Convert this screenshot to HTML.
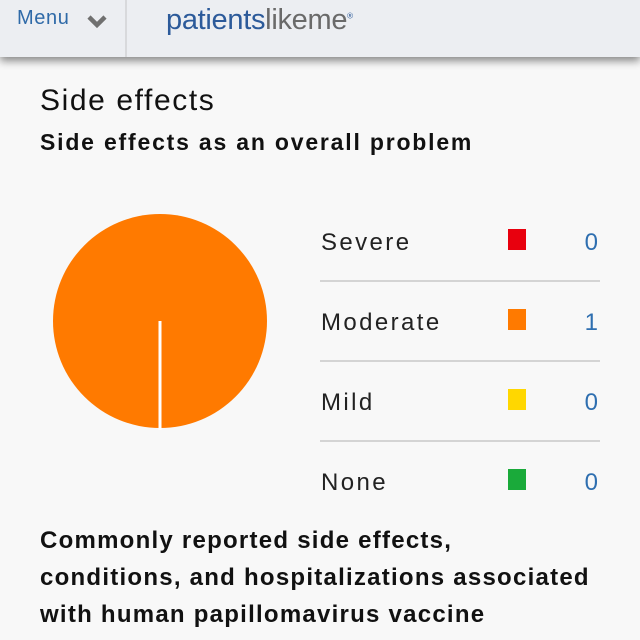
<!DOCTYPE html>
<html><head><meta charset="utf-8"><style>
body{margin:0;width:640px;height:640px;overflow:hidden;background:#f8f8f8;font-family:"Liberation Sans",sans-serif;position:relative}
.hdr{position:absolute;left:0;top:0;width:640px;height:57px;background:#eceef2;box-shadow:0 4px 8px rgba(0,0,0,.45)}
.abs{position:absolute;white-space:nowrap}
</style></head><body>
<div class="hdr">
<div class="abs" style="left:17px;top:7px;font-size:20px;color:#2f6aa8;letter-spacing:0.6px">Menu</div>
<svg class="abs" style="left:86px;top:12px" width="24" height="18"><path d="M3,5 L11,13 L19,5" fill="none" stroke="#707070" stroke-width="4.5"/></svg>
<div class="abs" style="left:125px;top:0;width:2px;height:57px;background:#d8d9dc"></div>
<div class="abs" style="left:166px;top:4px;font-size:29px;color:#2c5a9a;letter-spacing:-0.3px">patients<span style="color:#6a6a6a">likeme</span><sup style="font-size:8px">®</sup></div>
</div>
<div class="abs" style="left:40px;top:84px;font-size:30px;color:#111;letter-spacing:1.6px">Side effects</div>
<div class="abs" style="left:40px;top:129px;font-size:23px;font-weight:bold;color:#111;letter-spacing:1.8px">Side effects as an overall problem</div>
<svg id="chart" class="abs" style="left:0;top:0" width="640" height="640"></svg>
<div class="abs" style="left:40px;top:522px;font-size:24px;font-weight:bold;color:#111;line-height:37px;letter-spacing:1.25px">Commonly reported side effects,<br>conditions, and hospitalizations associated<br>with human papillomavirus vaccine</div>
<script>
const categories=["Severe","Moderate","Mild","None"];
const values=[0,1,0,0];
const colors=["#e8000e","#ff7a00","#ffd700","#1aaa3a"];
const NS="http://www.w3.org/2000/svg";
const svg=document.getElementById('chart');
const cx=160,cy=321,r=107;
const total=values.reduce((a,b)=>a+b,0);
function mk(t,a){const e=document.createElementNS(NS,t);for(const k in a)e.setAttribute(k,a[k]);svg.appendChild(e);return e;}
let ang=Math.PI/2;
const starts=[];
values.forEach((v,i)=>{
  if(!total||v<=0)return;
  const sweep=v/total*2*Math.PI;
  let el;
  if(sweep>=2*Math.PI-1e-6){
    el=mk('circle',{cx:cx,cy:cy,r:r,fill:colors[i]});
  }else{
    const a2=ang+sweep;
    const d=`M${cx},${cy}L${cx+r*Math.cos(ang)},${cy+r*Math.sin(ang)}A${r},${r} 0 ${sweep>Math.PI?1:0} 1 ${cx+r*Math.cos(a2)},${cy+r*Math.sin(a2)}Z`;
    el=mk('path',{d:d,fill:colors[i]});
  }
  
  
  starts.push(ang);
  ang+=sweep;
});
starts.forEach(a=>{
  const l=mk('line',{x1:cx,y1:cy,x2:cx+(r+2)*Math.cos(a),y2:cy+(r+2)*Math.sin(a),stroke:'#fff','stroke-width':3});
  
  
});
categories.forEach((c,i)=>{
  const y=241+i*80;
  const t=mk('text',{x:321,y:y+9,'font-size':24,fill:'#222','font-family':'Liberation Sans, sans-serif','letter-spacing':'2.4'});
  t.textContent=c;
  
  
  const s=mk('rect',{x:508,y:y-12,width:18,height:21,fill:colors[i]});
  
  
  const v=mk('text',{x:598,y:y+9,'font-size':24,fill:'#2f6fb0','text-anchor':'end','font-family':'Liberation Sans, sans-serif'});
  v.textContent=values[i];
  
  
  if(i<categories.length-1){
    const ln=mk('line',{x1:320,y1:y+40,x2:600,y2:y+40,stroke:'#d4d4d4','stroke-width':2});
    
    
  }
});
</script>
</body></html>
